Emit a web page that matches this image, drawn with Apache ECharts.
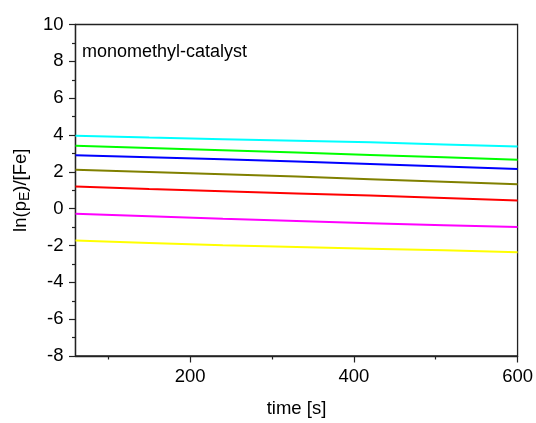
<!DOCTYPE html>
<html>
<head>
<meta charset="utf-8">
<script src="https://cdn.jsdelivr.net/npm/echarts@6/dist/echarts.min.js"></script>
<style>
  html, body { margin: 0; padding: 0; background: #fff; }
  #chart { width: 536px; height: 423px; }
</style>
</head>
<body>
<div id="chart"></div>
<script>
// Sampling times in seconds
const times = [60, 150, 240, 330, 420, 510, 600];

// ln(pE)/[Fe] for each run
const cyanRun    = [3.96, 3.86, 3.77, 3.69, 3.60, 3.49, 3.38];
const greenRun   = [3.41, 3.29, 3.17, 3.05, 2.92, 2.79, 2.66];
const blueRun    = [2.90, 2.79, 2.68, 2.56, 2.43, 2.29, 2.15];
const oliveRun   = [2.11, 1.99, 1.87, 1.74, 1.60, 1.46, 1.32];
const redRun     = [1.21, 1.07, 0.95, 0.83, 0.71, 0.58, 0.45];
const magentaRun = [-0.27, -0.41, -0.55, -0.67, -0.79, -0.90, -1.00];
const yellowRun  = [-1.73, -1.86, -1.99, -2.08, -2.17, -2.26, -2.36];

// Axis ticks
const xLabelTicks = [200, 400, 600];
const xMinorTicks = [100, 300, 500];

const runs = [
  { data: cyanRun, color: '#00FFFF' },
  { data: greenRun, color: '#00FF00' },
  { data: blueRun, color: '#0000FF' },
  { data: oliveRun, color: '#808000' },
  { data: redRun, color: '#FF0000' },
  { data: magentaRun, color: '#FF00FF' },
  { data: yellowRun, color: '#FFFF00' }
];

const font = 'Liberation Sans, Arial, sans-serif';
const axisColor = '#222';

const chart = echarts.init(document.getElementById('chart'), null, { renderer: 'canvas' });

chart.setOption({
  animation: false,
  backgroundColor: '#fff',
  grid: {
    left: 75, right: 18, top: 24.5, bottom: 66,
    show: true, borderColor: axisColor, borderWidth: 1.3, backgroundColor: 'transparent'
  },
  xAxis: [
    {
      type: 'value', min: 60, max: 600,
      position: 'bottom',
      name: 'time [s]', nameLocation: 'middle', nameGap: 43,
      nameTextStyle: { fontFamily: font, fontSize: 18.5, color: '#000' },
      axisLine: { show: true, onZero: false, lineStyle: { color: axisColor, width: 1.3 } },
      axisTick: { show: true, inside: false, length: 6.5, customValues: xLabelTicks, lineStyle: { color: axisColor, width: 1.2 } },
      axisLabel: { show: true, margin: 11, customValues: xLabelTicks, fontFamily: font, fontSize: 18.5, color: '#000' },
      splitLine: { show: false }
    },
    {
      type: 'value', min: 60, max: 600,
      position: 'bottom', offset: 0,
      axisLine: { show: false, onZero: false },
      axisTick: { show: true, inside: false, length: 3.5, customValues: xMinorTicks, lineStyle: { color: axisColor, width: 1.2 } },
      axisLabel: { show: false },
      splitLine: { show: false }
    }
  ],
  yAxis: {
    type: 'value', min: -8, max: 10, interval: 2,
    name: '{n|ln(p}{s|E}{n|)/[Fe]}', nameLocation: 'middle', nameGap: 41,
    nameTextStyle: {
      rich: {
        n: { fontFamily: font, fontSize: 18.5, color: '#000', lineHeight: 22 },
        s: { fontFamily: font, fontSize: 14, color: '#000', lineHeight: 14, verticalAlign: 'bottom', padding: [10, 0, 0, 0] }
      }
    },
    axisLine: { show: true, onZero: false, lineStyle: { color: axisColor, width: 1.3 } },
    axisTick: { show: true, inside: false, length: 6.5, lineStyle: { color: axisColor, width: 1.2 } },
    minorTick: { show: true, splitNumber: 2, length: 3.5, lineStyle: { color: axisColor, width: 1.2 } },
    axisLabel: { margin: 12, fontFamily: font, fontSize: 18.5, color: '#000' },
    splitLine: { show: false }
  },
  graphic: [
    {
      type: 'text', left: 82, top: 43,
      style: { text: 'monomethyl-catalyst', fontFamily: font, fontSize: 18, fill: '#000' }
    }
  ],
  series: runs.map(r => ({
    type: 'line',
    xAxisIndex: 0,
    data: times.map((t, i) => [t, r.data[i]]),
    showSymbol: false,
    smooth: false,
    lineStyle: { color: r.color, width: 2 },
    itemStyle: { color: r.color }
  }))
});
</script>
</body>
</html>
